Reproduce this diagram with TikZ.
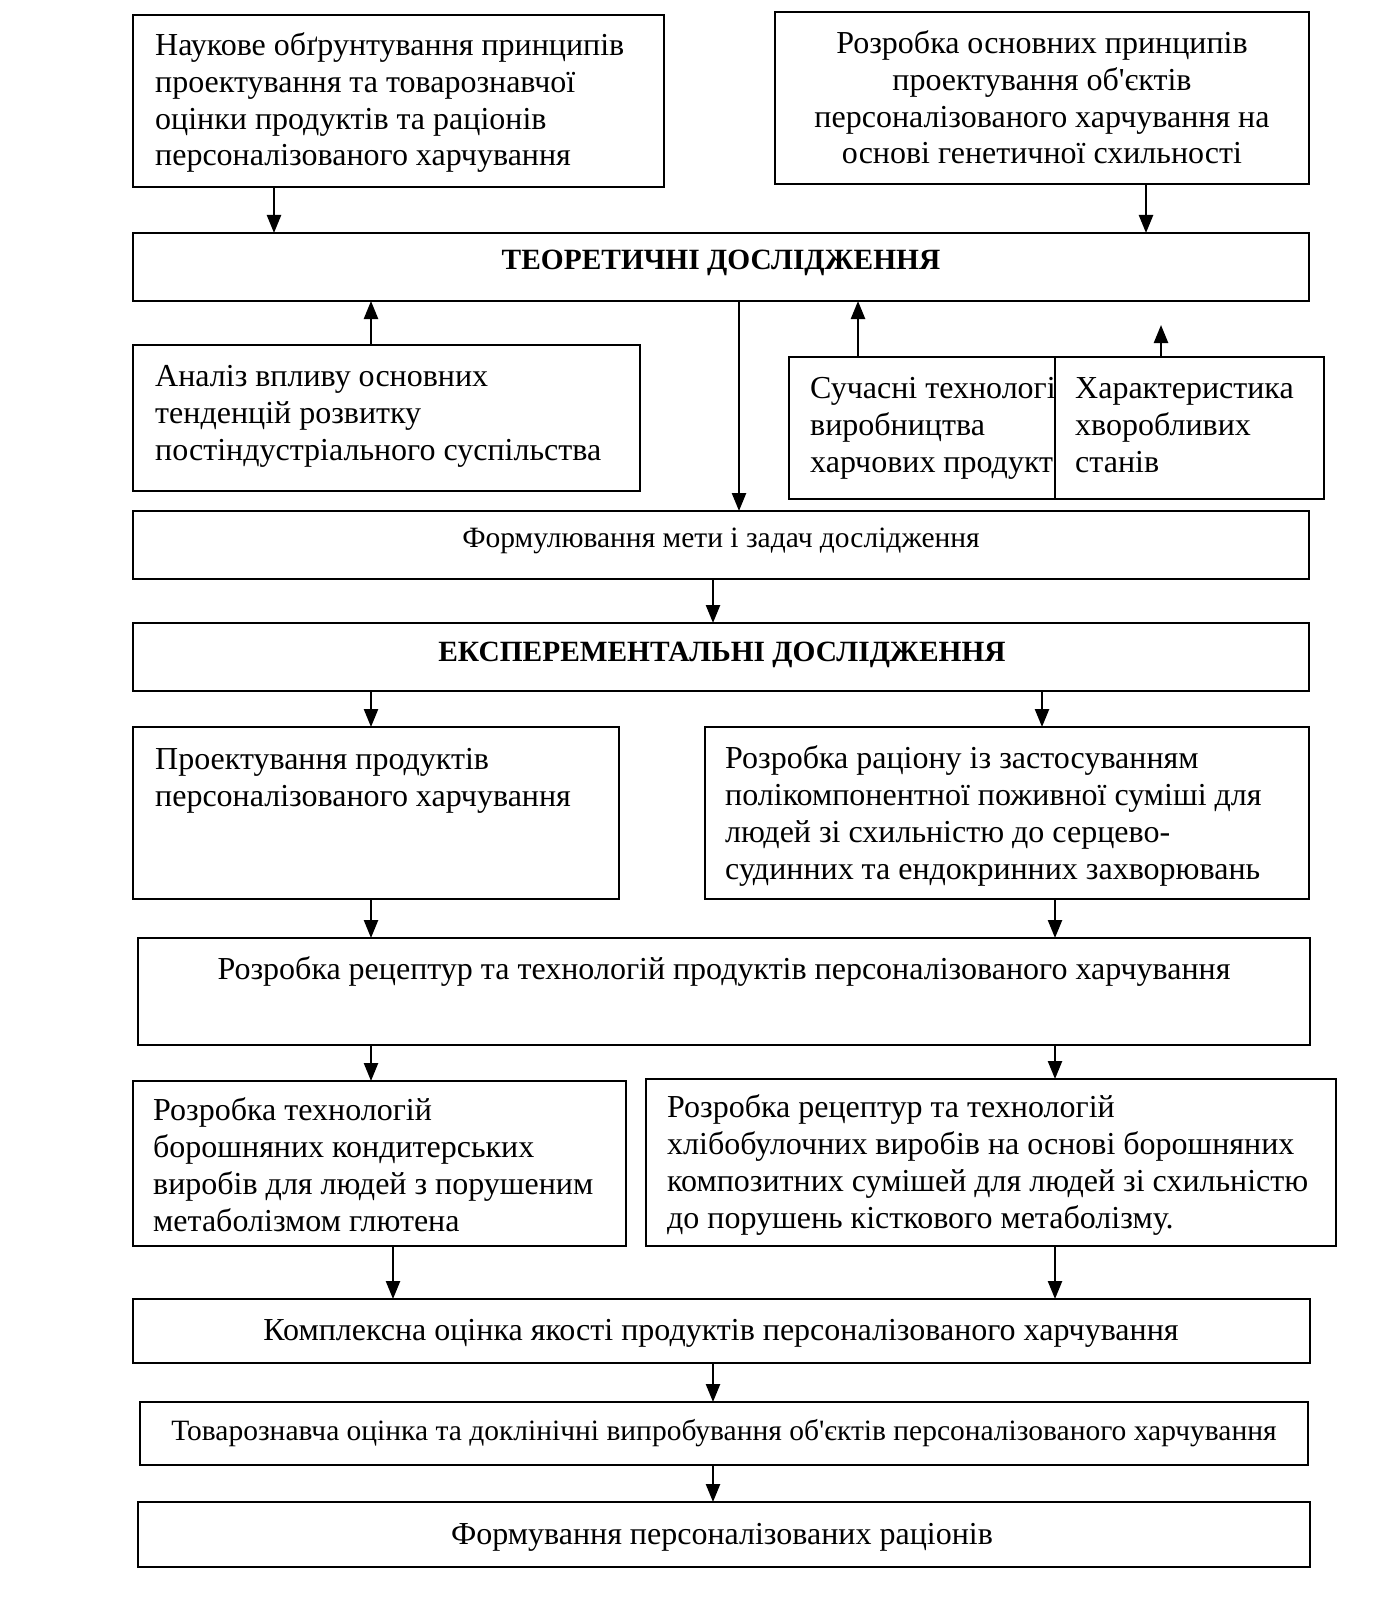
\documentclass[tikz,border=0pt]{standalone}
\usepackage{fontspec}
\setmainfont{Liberation Serif}
\usetikzlibrary{arrows.meta}
\newcommand\fmain{\fontsize{32}{36.7}\selectfont}
\newcommand\fhead{\fontsize{29.4}{32}\selectfont\bfseries}
\newcommand\fsmall{\fontsize{29.5}{33}\selectfont}
\begin{document}
\begin{tikzpicture}[x=1pt,y=-1pt,
  box/.style={draw, line width=2pt, inner sep=0pt, outer sep=0pt},
  txt/.style={inner sep=0pt, anchor=base west, align=left, font=\fmain},
  ctxt/.style={inner sep=0pt, anchor=base, align=center},
  arr/.style={line width=2.4pt, -{Triangle[length=18pt,width=14pt]}}]
\useasboundingbox (0,0) rectangle (1388,1602);
\fill[white] (0,0) rectangle (1388,1602);
% boxes
\node[box, minimum width=531pt, minimum height=172pt] (b1) at (398.5,101) {};
\node[box, minimum width=534pt, minimum height=172pt] (b2) at (1042,98) {};
\node[box, minimum width=1176pt, minimum height=68pt] (teor) at (721,267) {};
\node[box, minimum width=507pt, minimum height=146pt] (analiz) at (386.5,418) {};
\node[box, minimum width=266pt, minimum height=142pt] (such) at (922,428) {};
\node[box, minimum width=269pt, minimum height=142pt] (khar) at (1189.5,428) {};
\node[box, minimum width=1176pt, minimum height=68pt] (form) at (721,545) {};
\node[box, minimum width=1176pt, minimum height=68pt] (eksp) at (721,657) {};
\node[box, minimum width=486pt, minimum height=172pt] (proekt) at (376,813) {};
\node[box, minimum width=604pt, minimum height=172pt] (rats) at (1007,813) {};
\node[box, minimum width=1172pt, minimum height=107pt] (retsept) at (724,991.5) {};
\node[box, minimum width=493pt, minimum height=165pt] (tekhn) at (379.5,1163.5) {};
\node[box, minimum width=690pt, minimum height=167pt] (khlib) at (991,1162.5) {};
\node[box, minimum width=1177pt, minimum height=64pt] (kompl) at (721.5,1331) {};
\node[box, minimum width=1168pt, minimum height=63pt] (tovar) at (724,1433.5) {};
\node[box, minimum width=1172pt, minimum height=65pt] (formuv) at (724,1534.5) {};
% texts (anchor = baseline of last line)
\node[txt] (t1) at (155,166) {Наукове обґрунтування принципів\\проектування та товарознавчої\\оцінки продуктів та раціонів\\персоналізованого харчування};
\node[ctxt, font=\fmain] (t2) at (1042,164) {Розробка основних принципів\\проектування об\textquotesingle єктів\\персоналізованого харчування на\\основі генетичної схильності};
\node[ctxt, font=\fhead] (tteor) at (721,270) {ТЕОРЕТИЧНІ ДОСЛІДЖЕННЯ};
\node[txt] (tanal) at (155,460) {Аналіз впливу основних\\тенденцій розвитку\\постіндустріального суспільства};
\begin{scope}
\clip (such.north west) rectangle (such.south east);
\node[txt] (tsuch) at (810,472) {Сучасні технологі\\виробництва\\харчових продукт};
\end{scope}
\node[txt] (tkhar) at (1075,472) {Характеристика\\хворобливих\\станів};
\node[ctxt, font=\fsmall] (tform) at (721,547) {Формулювання мети і задач дослідження};
\node[ctxt, font=\fhead] (teksp) at (722,661) {ЕКСПЕРЕМЕНТАЛЬНІ ДОСЛІДЖЕННЯ};
\node[txt] (tproekt) at (155,806) {Проектування продуктів\\персоналізованого харчування};
\node[txt] (trats) at (725,879) {Розробка раціону із застосуванням\\полікомпонентної поживної суміші для\\людей зі схильністю до серцево-\\судинних та ендокринних захворювань};
\node[ctxt, font=\fmain] (tretsept) at (724,979) {Розробка рецептур та технологій продуктів персоналізованого харчування};
\node[txt] (ttekhn) at (153,1231) {Розробка технологій\\борошняних кондитерських\\виробів для людей з порушеним\\метаболізмом глютена};
\node[txt] (tkhlib) at (667,1228) {Розробка рецептур та технологій\\хлібобулочних виробів на основі борошняних\\композитних сумішей для людей зі схильністю\\до порушень кісткового метаболізму.};
\node[ctxt, font=\fmain] (tkompl) at (721,1340) {Комплексна оцінка якості продуктів персоналізованого харчування};
\node[ctxt, font=\fsmall] (ttovar) at (724,1440) {Товарознавча оцінка та доклінічні випробування об\textquotesingle єктів персоналізованого харчування};
\node[ctxt, font=\fmain] (tformuv) at (722,1544) {Формування персоналізованих раціонів};
% column coordinates
\coordinate (x274) at (274,0);
\coordinate (x1146) at (1146,0);
\coordinate (x371) at (371,0);
\coordinate (x739) at (739,0);
\coordinate (x858) at (858,0);
\coordinate (x713) at (713,0);
\coordinate (x1042) at (1042,0);
\coordinate (x1055) at (1055,0);
\coordinate (x393) at (393,0);
\coordinate (kharend) at (1161,325);
% arrows
\draw[arr] (b1.south -| x274) -- (teor.north -| x274);
\draw[arr] (b2.south -| x1146) -- (teor.north -| x1146);
\draw[arr] (analiz.north -| x371) -- (teor.south -| x371);
\draw[arr] (teor.south -| x739) -- (form.north -| x739);
\draw[arr] (such.north -| x858) -- (teor.south -| x858);
\draw[arr] (khar.north -| kharend) -- (kharend);
\draw[arr] (form.south -| x713) -- (eksp.north -| x713);
\draw[arr] (eksp.south -| x371) -- (proekt.north -| x371);
\draw[arr] (eksp.south -| x1042) -- (rats.north -| x1042);
\draw[arr] (proekt.south -| x371) -- (retsept.north -| x371);
\draw[arr] (rats.south -| x1055) -- (retsept.north -| x1055);
\draw[arr] (retsept.south -| x371) -- (tekhn.north -| x371);
\draw[arr] (retsept.south -| x1055) -- (khlib.north -| x1055);
\draw[arr] (tekhn.south -| x393) -- (kompl.north -| x393);
\draw[arr] (khlib.south -| x1055) -- (kompl.north -| x1055);
\draw[arr] (kompl.south -| x713) -- (tovar.north -| x713);
\draw[arr] (tovar.south -| x713) -- (formuv.north -| x713);
\end{tikzpicture}
\end{document}
